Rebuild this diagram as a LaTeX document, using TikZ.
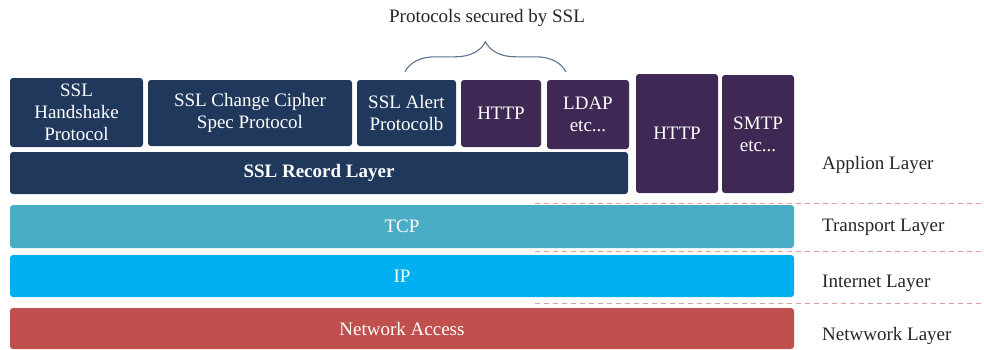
\documentclass[tikz,border=0pt]{standalone}
\usepackage{fontspec}
\setmainfont{Liberation Serif}
\usetikzlibrary{
calc,
decorations.pathreplacing,
positioning
}
\definecolor{sslblue}{RGB}{31,56,92}
\definecolor{appviolet}{RGB}{63,41,84}
\definecolor{tcpblue}{RGB}{75,172,198}
\definecolor{ipblue}{RGB}{0,176,240}
\definecolor{netred}{RGB}{192,80,77}
\definecolor{bracegray}{RGB}{95,115,145}
\tikzset{
  blk/.style={rounded corners=3pt, inner sep=0pt, text=white, align=center, font=\fontsize{19}{22}\selectfont},
  sslblk/.style={blk, fill=sslblue},
  appblk/.style={blk, fill=appviolet},
  sepline/.style={netred!55, line width=0.8pt, dash pattern=on 5pt off 4pt},
  laylab/.style={anchor=west, inner sep=0pt, text=black!85, font=\fontsize{19}{22}\selectfont}
}

\begin{document}
\begin{tikzpicture}[x=1pt, y=-1pt]
		\useasboundingbox (0,0) rectangle (984,349);
		% SSL protocols and secured applications
		\node[sslblk, minimum width=133, minimum height=69] (handshake) at (76.5,112.5) {SSL\\Handshake\\Protocol};
		\node[sslblk, minimum width=204, minimum height=66] (cipher) at (250,113) {SSL Change Cipher\\Spec Protocol};
		\node[sslblk, minimum width=99, minimum height=66] (alert) at (406.5,113) {SSL Alert\\Protocolb};
		\node[appblk, minimum width=80, minimum height=67] (http) at (501,113.5) {HTTP};
		\node[appblk, minimum width=82, minimum height=69] (ldap) at (588,114.5) {LDAP\\etc...};
		\node[sslblk, minimum width=618, minimum height=42, font=\fontsize{19}{22}\selectfont\bfseries] (record) at (319,173) {SSL Record Layer};
		% plain applications
		\node[appblk, minimum width=82, minimum height=119] (httpb) at (677,133.5) {HTTP};
		\node[appblk, minimum width=72, minimum height=118] (smtp) at (758,134) {SMTP\\etc...};
		% lower layers
		\node[blk, fill=tcpblue, minimum width=784, minimum height=43] (tcp) at (402,226.5) {TCP};
		\node[blk, fill=ipblue, minimum width=784, minimum height=42] (ip) at (402,276) {IP};
		\node[blk, fill=netred, minimum width=784, minimum height=41] (netacc) at (402,328.5) {Network Access};
		
		% brace
		\node[inner sep=0pt, text=black!85, font=\fontsize{19}{22}\selectfont] (prot) at (487,18) {Protocols secured by SSL};
		\coordinate (bl) at ($(alert.north)+(-1.5,-8)$);
		\coordinate (br) at ($(ldap.north west)+(19,-8)$);
		\draw[bracegray, line width=1.1pt, decorate, decoration={brace, amplitude=30pt}] (bl) -- (br);
		
		% layer separators and names
		\draw[sepline] (535,203) -- (984,203);
		\draw[sepline] (535,251) -- (984,251);
		\draw[sepline] (535,303) -- (984,303);
		\node[laylab] (applab) at (822,165) {Applion Layer};
		\node[laylab] (translab) at (822,227) {Transport Layer};
		\node[laylab] (intlab) at (822,283) {Internet Layer};
		\node[laylab] (netlab) at (822,336) {Netwwork Layer};
	\end{tikzpicture}
\end{document}
